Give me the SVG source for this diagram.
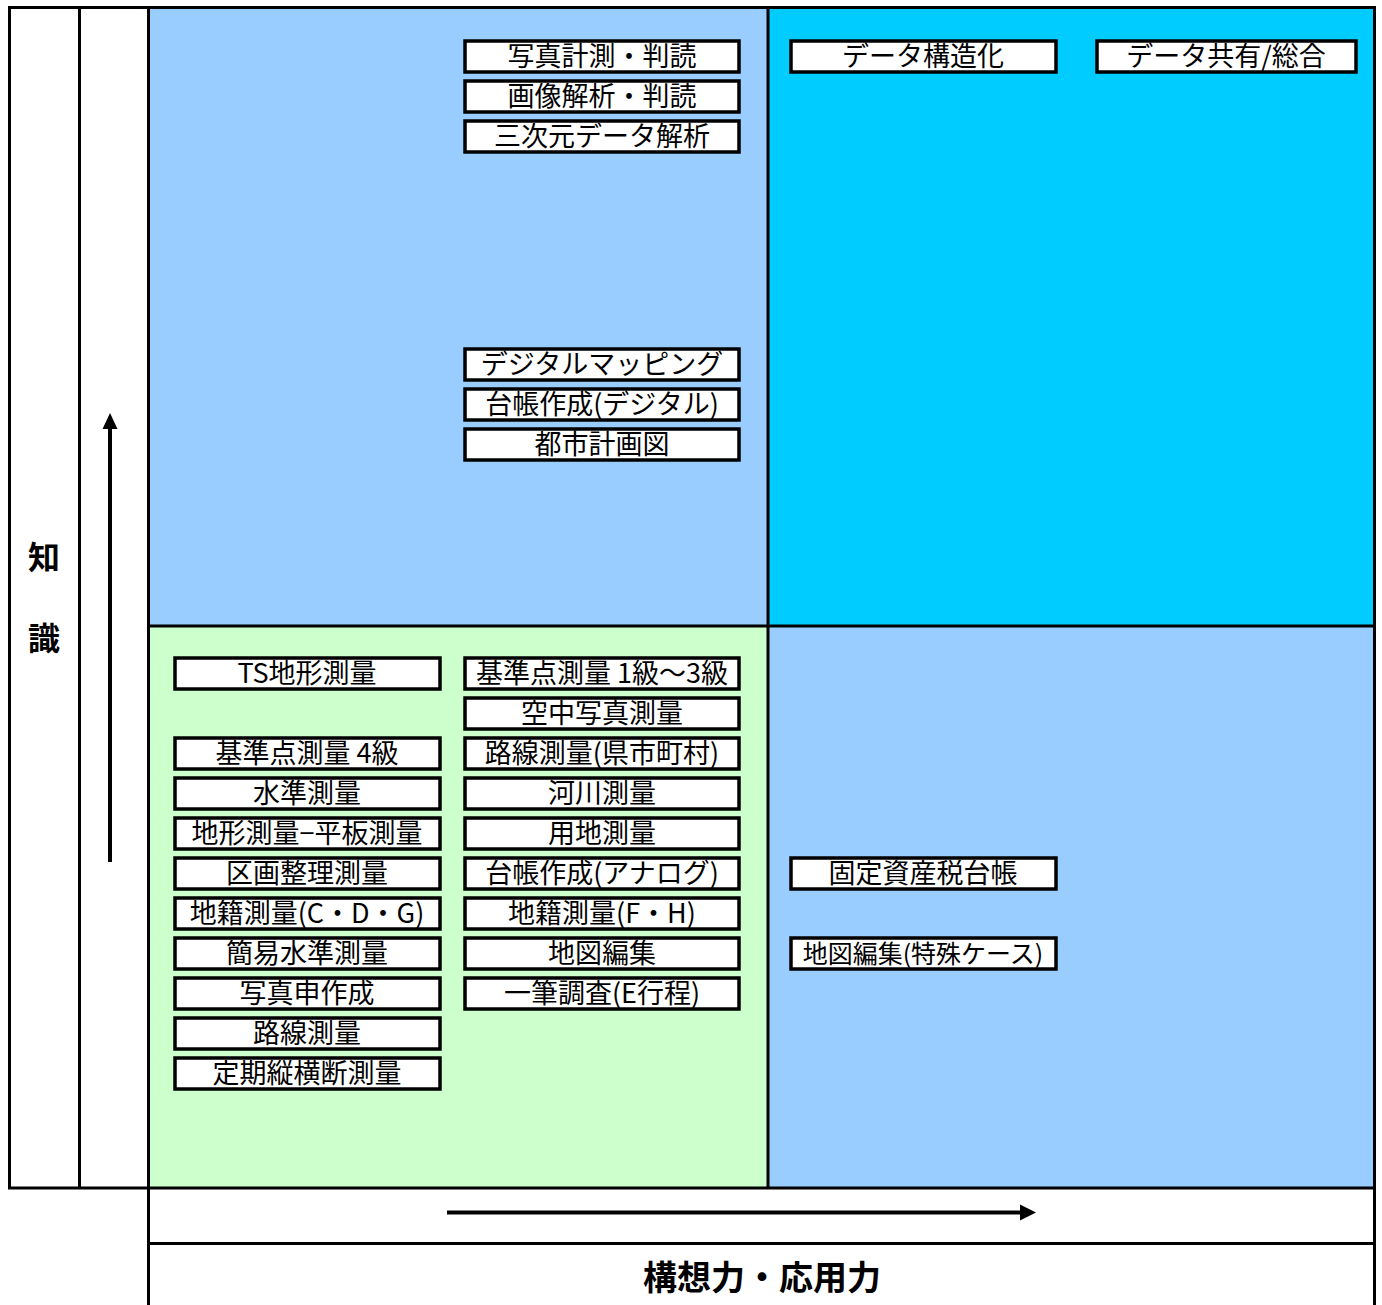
<svg xmlns="http://www.w3.org/2000/svg" width="1382" height="1305" viewBox="0 0 1382 1305">
<defs>
<style>
.box{fill:#FFFFFF;stroke:#000000;stroke-width:3.5}
.t{font-family:"Noto Sans CJK JP","Noto Sans CJK SC",sans-serif;font-size:27px;fill:#000000;text-anchor:middle}
.t.s{font-size:25px}
.lbl{font-family:"Noto Sans CJK JP","Noto Sans CJK SC",sans-serif;font-weight:bold;fill:#000000;text-anchor:middle}
.grid{stroke:#000000;stroke-width:3;fill:none}
.arr{stroke:#000000;stroke-width:4;fill:none}
</style>
</defs>
<rect x="0" y="0" width="1382" height="1305" fill="#FFFFFF"/>
<g id="quadrants">
<rect x="148" y="8" width="620" height="618" fill="#99CCFF"/>
<rect x="768" y="8" width="606" height="618" fill="#00CCFF"/>
<rect x="148" y="626" width="620" height="562" fill="#CCFFCC"/>
<rect x="768" y="626" width="606" height="562" fill="#99CCFF"/>
</g>
<g id="grid" class="grid">
<line x1="8" y1="7.5" x2="1376" y2="7.5"/>
<line x1="9.5" y1="7.5" x2="9.5" y2="1189"/>
<line x1="79.5" y1="7.5" x2="79.5" y2="1188"/>
<line x1="148.5" y1="7.5" x2="148.5" y2="1305"/>
<line x1="1374.5" y1="7.5" x2="1374.5" y2="1305"/>
<line x1="8" y1="1188" x2="1376" y2="1188"/>
<line x1="148.5" y1="1243.5" x2="1376" y2="1243.5"/>
<line x1="768" y1="7.5" x2="768" y2="1188"/>
<line x1="148.5" y1="626" x2="1374.5" y2="626"/>
</g>
<g id="axis-labels">
<text class="lbl" x="44" y="569" font-size="32">知</text>
<text class="lbl" x="44" y="650" font-size="32">識</text>
<text class="lbl" x="762" y="1290" font-size="34">構想力・応用力</text>
</g>
<g id="connectors">
<line class="arr" x1="110" y1="862" x2="110" y2="427"/>
<polygon points="110,413 102.5,429 117.5,429" fill="#000000"/>
<line class="arr" x1="447" y1="1212.5" x2="1021" y2="1212.5" stroke-width="3"/>
<polygon points="1036,1212.5 1020,1204.5 1020,1220.5" fill="#000000"/>
</g>
<g id="n1"><rect class="box" x="465" y="41" width="274" height="31"/><text class="t" x="602" y="66">写真計測・判読</text></g>
<g id="n2"><rect class="box" x="465" y="81" width="274" height="31"/><text class="t" x="602" y="106">画像解析・判読</text></g>
<g id="n3"><rect class="box" x="465" y="121" width="274" height="31"/><text class="t" x="602" y="146">三次元データ解析</text></g>
<g id="n4"><rect class="box" x="465" y="349" width="274" height="31"/><text class="t" x="602" y="374">デジタルマッピング</text></g>
<g id="n5"><rect class="box" x="465" y="389" width="274" height="31"/><text class="t" x="602" y="414">台帳作成(デジタル)</text></g>
<g id="n6"><rect class="box" x="465" y="429" width="274" height="31"/><text class="t" x="602" y="454">都市計画図</text></g>
<g id="n7"><rect class="box" x="791" y="41" width="265" height="31"/><text class="t" x="923" y="66">データ構造化</text></g>
<g id="n8"><rect class="box" x="1097" y="41" width="259" height="31"/><text class="t" x="1226" y="66">データ共有/総合</text></g>
<g id="n9"><rect class="box" x="175" y="658" width="265" height="31"/><text class="t" x="307" y="683">TS地形測量</text></g>
<g id="n10"><rect class="box" x="465" y="658" width="274" height="31"/><text class="t" x="602" y="683">基準点測量 1級～3級</text></g>
<g id="n11"><rect class="box" x="465" y="698" width="274" height="31"/><text class="t" x="602" y="723">空中写真測量</text></g>
<g id="n12"><rect class="box" x="175" y="738" width="265" height="31"/><text class="t" x="307" y="763">基準点測量 4級</text></g>
<g id="n13"><rect class="box" x="465" y="738" width="274" height="31"/><text class="t" x="602" y="763">路線測量(県市町村)</text></g>
<g id="n14"><rect class="box" x="175" y="778" width="265" height="31"/><text class="t" x="307" y="803">水準測量</text></g>
<g id="n15"><rect class="box" x="465" y="778" width="274" height="31"/><text class="t" x="602" y="803">河川測量</text></g>
<g id="n16"><rect class="box" x="175" y="818" width="265" height="31"/><text class="t" x="307" y="843">地形測量−平板測量</text></g>
<g id="n17"><rect class="box" x="465" y="818" width="274" height="31"/><text class="t" x="602" y="843">用地測量</text></g>
<g id="n18"><rect class="box" x="175" y="858" width="265" height="31"/><text class="t" x="307" y="883">区画整理測量</text></g>
<g id="n19"><rect class="box" x="465" y="858" width="274" height="31"/><text class="t" x="602" y="883">台帳作成(アナログ)</text></g>
<g id="n20"><rect class="box" x="791" y="858" width="265" height="31"/><text class="t" x="923" y="883">固定資産税台帳</text></g>
<g id="n21"><rect class="box" x="175" y="898" width="265" height="31"/><text class="t" x="307" y="923">地籍測量(C・D・G)</text></g>
<g id="n22"><rect class="box" x="465" y="898" width="274" height="31"/><text class="t" x="602" y="923">地籍測量(F・H)</text></g>
<g id="n23"><rect class="box" x="175" y="938" width="265" height="31"/><text class="t" x="307" y="963">簡易水準測量</text></g>
<g id="n24"><rect class="box" x="465" y="938" width="274" height="31"/><text class="t" x="602" y="963">地図編集</text></g>
<g id="n25"><rect class="box" x="791" y="938" width="265" height="31"/><text class="t s" x="923" y="963">地図編集(特殊ケース)</text></g>
<g id="n26"><rect class="box" x="175" y="978" width="265" height="31"/><text class="t" x="307" y="1003">写真申作成</text></g>
<g id="n27"><rect class="box" x="465" y="978" width="274" height="31"/><text class="t" x="602" y="1003">一筆調査(E行程)</text></g>
<g id="n28"><rect class="box" x="175" y="1018" width="265" height="31"/><text class="t" x="307" y="1043">路線測量</text></g>
<g id="n29"><rect class="box" x="175" y="1058" width="265" height="31"/><text class="t" x="307" y="1083">定期縦横断測量</text></g>
</svg>
